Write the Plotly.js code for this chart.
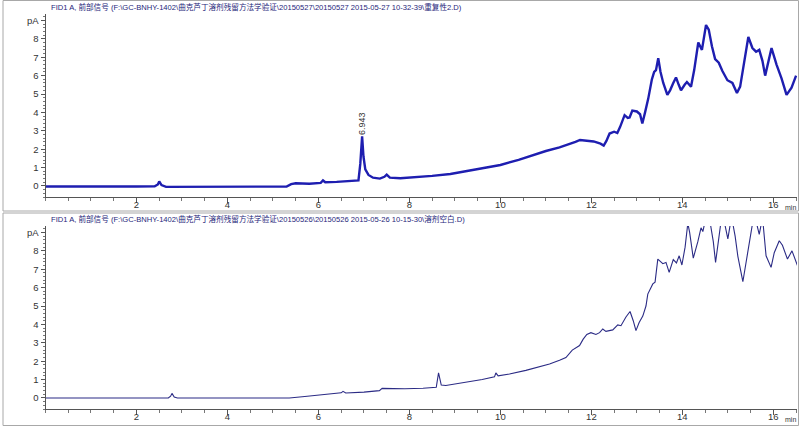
<!DOCTYPE html>
<html>
<head>
<meta charset="utf-8">
<script src="https://cdn.plot.ly/plotly-3.0.1.min.js"></script>
<style>html,body{margin:0;padding:0;background:#fff;}#chart{width:800px;height:426px;}</style>
</head>
<body>
<div id="chart"></div>
<script>
// Top chromatogram: 重复性2.D
const topTime = [0.0,0.5,1.0,1.5,2.0,2.4,2.47,2.5,2.55,2.65,3.0,3.5,4.0,4.5,5.0,5.3,5.4,5.5,5.8,6.05,6.1,6.15,6.4,6.7,6.88,6.92,6.96,6.99,7.03,7.1,7.2,7.35,7.45,7.5,7.57,7.8,8.0,8.5,8.9,9.3,9.7,10.0,10.4,10.7,11.0,11.3,11.5,11.65,11.75,11.9,12.05,12.2,12.27,12.33,12.4,12.5,12.57,12.63,12.73,12.8,12.84,12.9,13.0,13.07,13.12,13.18,13.25,13.33,13.38,13.42,13.47,13.52,13.58,13.67,13.73,13.8,13.86,13.92,13.97,14.05,14.1,14.19,14.26,14.35,14.43,14.52,14.58,14.65,14.72,14.8,14.88,14.99,15.1,15.2,15.27,15.33,15.45,15.54,15.62,15.69,15.76,15.82,15.9,15.96,16.07,16.18,16.29,16.4,16.5];
const topSignal = [-0.03,-0.04,-0.02,-0.04,-0.03,-0.02,0.08,0.25,0.05,-0.05,-0.05,-0.04,-0.03,-0.05,-0.04,-0.03,0.1,0.15,0.12,0.17,0.3,0.2,0.22,0.25,0.3,1.2,2.7,1.6,0.9,0.6,0.45,0.4,0.5,0.62,0.45,0.42,0.45,0.55,0.65,0.82,0.98,1.14,1.42,1.68,1.9,2.1,2.25,2.4,2.5,2.45,2.42,2.3,2.2,2.45,2.85,2.95,2.88,3.2,3.85,3.7,3.72,4.1,4.05,3.9,3.4,4.0,4.75,5.8,6.2,6.3,6.95,6.2,5.6,4.95,5.2,5.6,5.9,5.5,5.2,5.5,5.65,5.4,6.3,7.8,7.4,8.75,8.5,7.6,6.9,6.7,6.25,5.75,5.6,5.05,5.4,6.3,8.1,7.5,7.3,7.4,6.8,6.0,6.9,7.5,6.6,5.85,4.95,5.35,6.0];

// Bottom chromatogram: 溶剂空白.D
const botTime = [0.0,1.0,2.0,2.7,2.75,2.78,2.83,2.9,4.0,4.9,5.0,5.2,5.36,5.7,6.0,6.4,6.5,6.54,6.6,7.0,7.34,7.4,7.6,7.9,8.3,8.59,8.64,8.7,8.8,9.24,9.6,9.87,9.9,9.95,10.2,10.56,10.8,11.08,11.3,11.44,11.58,11.66,11.74,11.82,11.9,11.99,12.1,12.18,12.25,12.32,12.47,12.58,12.65,12.76,12.85,12.92,12.98,13.05,13.13,13.2,13.24,13.35,13.4,13.46,13.52,13.57,13.64,13.71,13.8,13.87,13.93,13.99,14.06,14.12,14.16,14.24,14.34,14.41,14.45,14.5,14.58,14.68,14.73,14.8,14.85,14.92,14.97,15.0,15.05,15.1,15.16,15.22,15.33,15.44,15.5,15.55,15.63,15.69,15.73,15.77,15.84,15.95,16.02,16.13,16.2,16.31,16.41,16.53];
const botSignal = [0.0,0.0,0.0,0.0,0.1,0.25,0.05,0.0,0.0,0.0,0.03,0.0,0.0,0.08,0.16,0.25,0.28,0.36,0.27,0.32,0.4,0.52,0.5,0.5,0.53,0.58,1.36,0.7,0.68,0.85,1.0,1.15,1.36,1.2,1.3,1.5,1.65,1.85,2.05,2.2,2.6,2.75,2.85,3.2,3.45,3.55,3.45,3.55,3.75,3.62,3.7,3.97,3.93,4.4,4.7,4.2,3.66,4.1,4.45,5.0,5.65,6.2,6.3,7.55,7.4,7.3,7.37,6.83,7.52,7.34,7.73,7.23,8.2,9.5,9.0,7.6,8.5,9.25,9.05,9.6,10.0,8.5,7.37,8.6,9.6,9.6,8.9,8.65,9.4,9.6,8.8,7.7,6.32,7.9,9.0,9.6,9.5,8.9,9.4,9.6,7.73,7.1,7.9,8.55,8.3,7.55,8.0,7.2];

// Axis ticks
const xTickVals = [2,4,6,8,10,12,14,16];
const xTickText = ['2','4','6','8','10','12','14','16'];
const yTickVals = [0,1,2,3,4,5,6,7,8,9];
const yTickText = ['0','1','2','3','4','5','6','7','8','pA'];

// Labels
const topTitle = 'FID1 A, 前部信号 (F:\\GC-BNHY-1402\\曲克芦丁溶剂残留方法学验证\\20150527\\20150527 2015-05-27 10-32-39\\重复性2.D)';
const botTitle = 'FID1 A, 前部信号 (F:\\GC-BNHY-1402\\曲克芦丁溶剂残留方法学验证\\20150526\\20150526 2015-05-26 10-15-30\\溶剂空白.D)';
const peakLabel = '6.943';
const peakTime = 6.96;
const peakLabelY = 3.37;

const W = 800, H = 426;
const py = v => 1 - v / H;
const px = v => v / W;

const tickFont = {family: 'Liberation Sans, Arial, sans-serif', size: 9.5, color: '#333'};
const xaxisBase = {
  range: [0, 16.52], domain: [px(45.5), px(797)],
  showline: true, linecolor: '#555', linewidth: 1, mirror: false,
  showgrid: false, zeroline: false,
  tickvals: xTickVals, ticktext: xTickText,
  ticks: 'outside', ticklen: 5, tickcolor: '#555', tickfont: tickFont,
  ticklabelstandoff: -6,
  minor: {dtick: 0.5, tick0: 0, ticks: 'outside', ticklen: 3, tickcolor: '#777', showgrid: false}
};
const yaxisBase = {
  range: [-0.6, 9.35],
  showline: true, linecolor: '#555', linewidth: 1,
  showgrid: false, zeroline: false,
  tickvals: yTickVals, ticktext: yTickText,
  ticks: 'outside', ticklen: 4, tickcolor: '#555', tickfont: tickFont,
  minor: {dtick: 0.2, tick0: 0, ticks: 'outside', ticklen: 2, tickcolor: '#777', showgrid: false}
};

const traces = [
  {x: topTime, y: topSignal, xaxis: 'x', yaxis: 'y', type: 'scatter', mode: 'lines',
   line: {color: '#1e1eb0', width: 2.4}, hoverinfo: 'skip'},
  {x: botTime, y: botSignal, xaxis: 'x2', yaxis: 'y2', type: 'scatter', mode: 'lines',
   line: {color: '#2b2b85', width: 1.1}, hoverinfo: 'skip'}
];

const titleFont = {family: 'Liberation Sans, Noto Sans CJK SC, sans-serif', size: 7.6, color: '#26267a'};
const layout = {
  width: W, height: H,
  margin: {l: 0, r: 0, t: 0, b: 0},
  paper_bgcolor: '#fff', plot_bgcolor: '#fff',
  showlegend: false,
  xaxis: Object.assign({}, xaxisBase, {anchor: 'y'}),
  yaxis: Object.assign({}, yaxisBase, {anchor: 'x', domain: [py(197), py(14)]}),
  xaxis2: Object.assign({}, xaxisBase, {anchor: 'y2'}),
  yaxis2: Object.assign({}, yaxisBase, {anchor: 'x2', domain: [py(409), py(226)]}),
  annotations: [
    {text: topTitle, xref: 'paper', yref: 'paper', x: px(49), y: py(6.5), xanchor: 'left', yanchor: 'middle', showarrow: false, font: titleFont},
    {text: botTitle, xref: 'paper', yref: 'paper', x: px(49), y: py(218.5), xanchor: 'left', yanchor: 'middle', showarrow: false, font: titleFont},
    {text: peakLabel, xref: 'x', yref: 'y', x: peakTime, y: peakLabelY, textangle: -90, showarrow: false,
     font: {family: 'Liberation Sans, Arial, sans-serif', size: 9, color: '#333'}},
    {text: 'min', xref: 'paper', yref: 'paper', x: px(790), y: py(207), xanchor: 'center', yanchor: 'middle', showarrow: false,
     font: {family: 'Liberation Sans, Arial, sans-serif', size: 7, color: '#333'}},
    {text: 'min', xref: 'paper', yref: 'paper', x: px(790), y: py(419), xanchor: 'center', yanchor: 'middle', showarrow: false,
     font: {family: 'Liberation Sans, Arial, sans-serif', size: 7, color: '#333'}}
  ],
  shapes: [
    {type: 'rect', xref: 'paper', yref: 'paper', x0: px(3), x1: px(798.5), y0: py(211), y1: py(0.5), line: {color: '#a8a8a8', width: 1}},
    {type: 'rect', xref: 'paper', yref: 'paper', x0: px(3), x1: px(798.5), y0: py(425.5), y1: py(213), line: {color: '#a8a8a8', width: 1}}
  ]
};

Plotly.newPlot('chart', traces, layout, {staticPlot: true, displayModeBar: false});
</script>
</body>
</html>
